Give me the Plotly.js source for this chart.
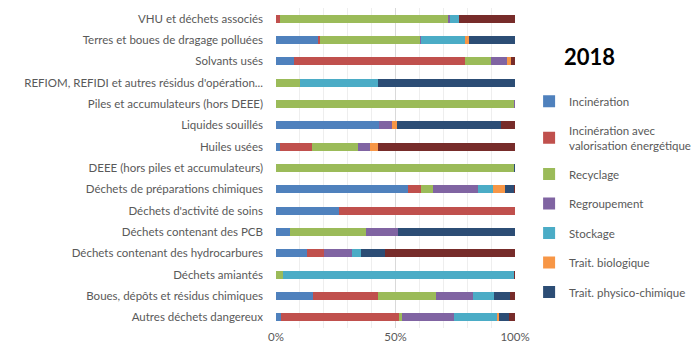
<!DOCTYPE html>
<html><head><meta charset="utf-8">
<script src="https://cdn.plot.ly/plotly-3.0.1.min.js"></script>
<style>html,body{margin:0;padding:0;background:#fff}#chart{width:700px;height:358px}</style>
</head><body><div id="chart"></div>
<script>
const categories = [
  "VHU et déchets associés",
  "Terres et boues de dragage polluées",
  "Solvants usés",
  "REFIOM, REFIDI et autres résidus d'opération...",
  "Piles et accumulateurs (hors DEEE)",
  "Liquides souillés",
  "Huiles usées",
  "DEEE (hors piles et accumulateurs)",
  "Déchets de préparations chimiques",
  "Déchets d'activité de soins",
  "Déchets contenant des PCB",
  "Déchets contenant des hydrocarbures",
  "Déchets amiantés",
  "Boues, dépôts et résidus chimiques",
  "Autres déchets dangereux"
];
const seriesNames = ["Incinération","Incinération avec<br>valorisation énergétique","Recyclage","Regroupement","Stockage","Trait. biologique","Trait. physico-chimique","Autres"];
const incineration   = [0,   17.6, 7.4,  0,    0,    43.3, 1.5,  0,    55.2, 26.3, 6.0,  13.1, 0,    15.5, 2.0];
const incinValo      = [1.5, 0.6,  71.6, 0,    0,    0,    13.5, 0,    5.4,  73.7, 0,    6.8,  0,    27.2, 49.4];
const recyclage      = [70.3,42.0, 10.8, 10.2, 99.4, 0,    19.3, 99.4, 4.9,  0,    31.8, 0,    2.9,  24.2, 1.5];
const regroupement   = [1.0, 0.6,  6.7,  0,    0.6,  5.3,  4.9,  0,    19.0, 0,    13.1, 11.7, 0,    15.6, 21.8];
const stockage       = [3.9, 18.3, 0,    32.4, 0,    0,    0,    0,    6.3,  0,    0,    3.8,  96.8, 8.7,  17.9];
const traitBio       = [0,   1.8,  1.8,  0,    0,    2.0,  3.5,  0,    5.2,  0,    0,    0,    0,    0,    0.6];
const traitPhysico   = [0,   19.1, 0,    57.2, 0,    43.7, 0,    0.6,  3.6,  0,    49.1, 10.2, 0,    6.7,  4.5];
const autres         = [23.3,0,    1.7,  0.2,  0,    5.7,  57.3, 0,    0.4,  0,    0,    54.3, 0.3,  2.1,  2.4];
const allSeries = [incineration, incinValo, recyclage, regroupement, stockage, traitBio, traitPhysico, autres];
const colors = ["#4F81BD","#C0504D","#9BBB59","#8064A2","#4BACC6","#F79646","#2C4D75","#772C2A"];

const traces = allSeries.map((vals, i) => ({
  type: 'bar', orientation: 'h',
  y: categories, x: vals,
  name: seriesNames[i],
  marker: {color: colors[i], line: {width: 0}},
  showlegend: i < 7,
  legendgroup: 'g' + i,
  hoverinfo: 'x+name'
}));

const layout = {
  width: 700, height: 358,
  margin: {l: 276, r: 185, t: 8, b: 30, pad: 0, autoexpand: false},
  barmode: 'stack', barnorm: 'percent', bargap: 0.62,
  paper_bgcolor: '#fff', plot_bgcolor: '#fff',
  font: {family: 'Lato, "Open Sans", sans-serif', size: 11.5, color: '#595959'},
  xaxis: {
    range: [0, 100], dtick: 50, ticksuffix: '%', showline: false, zeroline: false,
    showgrid: true, gridcolor: '#D9D9D9', gridwidth: 1,
    minor: {dtick: 10, showgrid: true, gridcolor: '#EEEEEE', gridwidth: 1},
    tickfont: {size: 11.5, color: '#595959'}, fixedrange: true, automargin: false
  },
  yaxis: {
    autorange: 'reversed', showgrid: false, zeroline: false, showline: false,
    ticks: '', ticklabelstandoff: 12, tickfont: {size: 11.5, color: '#595959'},
    automargin: false, fixedrange: true
  },
  legend: {
    x: 1.059, xanchor: 'left', y: 0.754, yanchor: 'top',
    font: {size: 11.5, color: '#595959'}, tracegroupgap: 10.5,
    itemwidth: 30, bgcolor: 'rgba(0,0,0,0)'
  },
  annotations: [{
    text: '<b>2018</b>', xref: 'paper', yref: 'paper', x: 1.31, y: 0.847,
    xanchor: 'center', yanchor: 'middle', showarrow: false,
    font: {size: 22, color: '#000', family: 'Lato, "Open Sans", sans-serif'}
  }]
};
Plotly.newPlot('chart', traces, layout, {displayModeBar: false, staticPlot: true});
</script></body></html>
